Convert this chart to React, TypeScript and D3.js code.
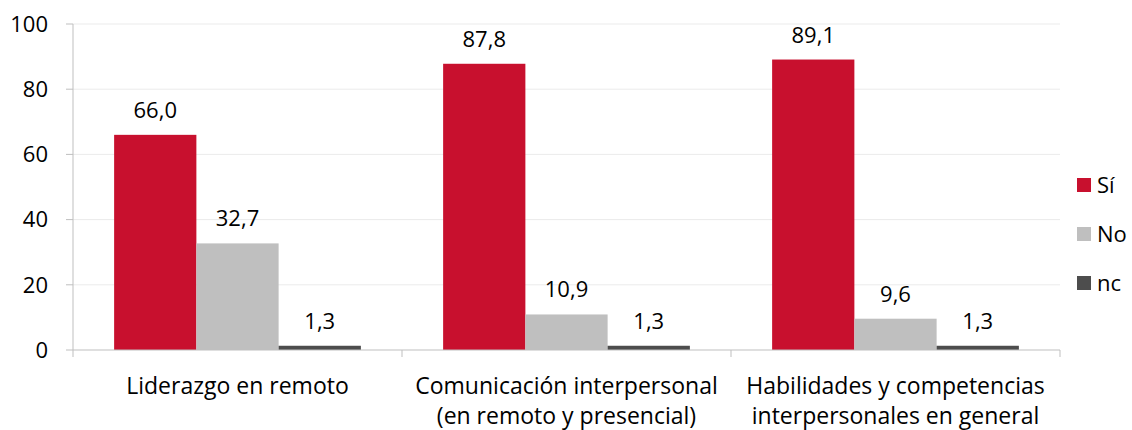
import React from "react";
import * as d3 from "d3";

const categories = [
  ["Liderazgo en remoto"],
  ["Comunicación interpersonal", "(en remoto y presencial)"],
  ["Habilidades y competencias", "interpersonales en general"],
];
const seriesNames = ["Sí", "No", "nc"];
const siValues = [66.0, 87.8, 89.1];
const noValues = [32.7, 10.9, 9.6];
const ncValues = [1.3, 1.3, 1.3];
const yTicks = [0, 20, 40, 60, 80, 100];
const colors = ["#C8102E", "#BFBFBF", "#4D4D4D"];

const W = 1132, H = 430;
const left = 73, right = 1060, top = 24, bottom = 350;
const font = "'Open Sans', sans-serif";
const fs = 22;
const catFs = 23;

export default function App() {
  const series = [siValues, noValues, ncValues];
  const x0 = d3.scaleBand<number>().domain([0, 1, 2]).range([left, right]).padding(0);
  const x1 = d3.scaleBand<number>().domain([0, 1, 2]).range([0, x0.bandwidth()]).paddingInner(0).paddingOuter(0.5);
  const y = d3.scaleLinear().domain([0, 100]).range([bottom, top]);
  const fmt = (v: number) => v.toFixed(1).replace(".", ",");
  return (
    <svg width={W} height={H} style={{ display: "block", position: "absolute", left: 0, top: 0 }} fontFamily={font}>
      <rect width={W} height={H} fill="#fff" />
      {yTicks.map((t) => (
        <g key={t}>
          {t > 0 && <line x1={left} x2={right} y1={y(t)} y2={y(t)} stroke="#EBEBEB" strokeWidth={1} />}
          <line x1={left - 7} x2={left} y1={y(t)} y2={y(t)} stroke="#BFBFBF" />
          <text x={48} y={y(t)} dy="0.35em" textAnchor="end" fontSize={fs} fill="#000">{t}</text>
        </g>
      ))}
      <line x1={left} x2={left} y1={top} y2={bottom} stroke="#BFBFBF" />
      {series.map((vals, si) =>
        vals.map((v, ci) => {
          const bx = (x0(ci) as number) + (x1(si) as number);
          return (
            <g key={`${si}-${ci}`}>
              <rect x={bx} y={y(v)} width={x1.bandwidth()} height={bottom - y(v)} fill={colors[si]} />
              <text x={bx + x1.bandwidth() / 2} y={y(v) - 17} textAnchor="middle" fontSize={fs} fill="#000">{fmt(v)}</text>
            </g>
          );
        })
      )}
      <line x1={left} x2={right} y1={bottom} y2={bottom} stroke="#BFBFBF" />
      {[0, 1, 2, 3].map((i) => {
        const xx = i < 3 ? (x0(i) as number) : right;
        return <line key={i} x1={xx} x2={xx} y1={bottom} y2={bottom + 7} stroke="#BFBFBF" />;
      })}
      {categories.map((lines, ci) => (
        <text key={ci} x={(x0(ci) as number) + x0.bandwidth() / 2} textAnchor="middle" fontSize={catFs} fill="#000">
          {lines.map((l, li) => (
            <tspan key={li} x={(x0(ci) as number) + x0.bandwidth() / 2} y={394 + li * 30}>{l}</tspan>
          ))}
        </text>
      ))}
      {seriesNames.map((n, i) => (
        <g key={n}>
          <rect x={1077} y={178 + i * 49} width={14} height={14} fill={colors[i]} />
          <text x={1097} y={185 + i * 49} dy="0.35em" fontSize={fs} fill="#000">{n}</text>
        </g>
      ))}
    </svg>
  );
}
